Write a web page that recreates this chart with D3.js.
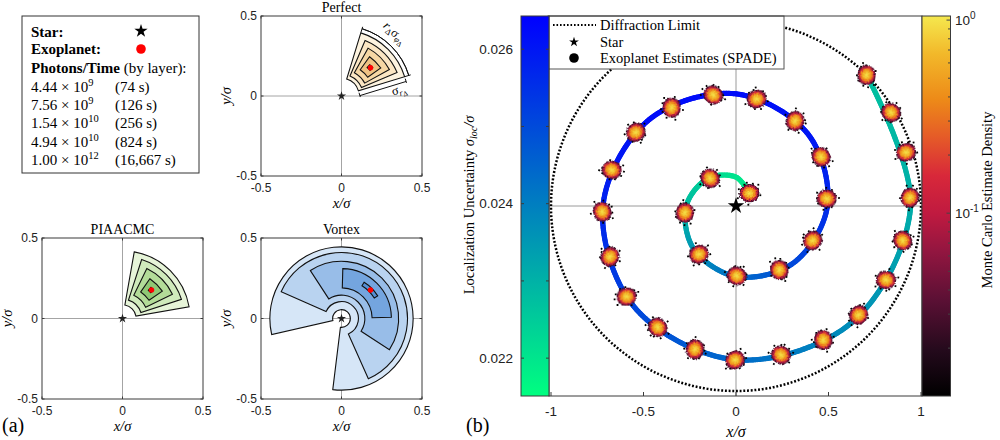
<!DOCTYPE html>
<html><head><meta charset="utf-8">
<script src="https://cdn.jsdelivr.net/npm/d3@7"></script>
<style>body{margin:0;background:#fff} svg{display:block}</style>
</head><body><svg id="c" width="1000" height="440"></svg>
<script>
// ================= DATA =================
// Legend of panel (a)
const legendMantissa = ["4.44", "7.56", "1.54", "4.94", "1.00"];
const legendExponent = ["9", "9", "10", "10", "12"];
const legendTimes = ["(74 s)", "(126 s)", "(256 s)", "(824 s)", "(16,667 s)"];

// Exoplanet true position (panel a)
const planetX = 0.18, planetY = 0.177;

// Uncertainty wedges (outer layer first): radius range and angle range (deg)
const perfectRIn  = [0.11, 0.135, 0.165, 0.20, 0.238];
const perfectROut = [0.41, 0.375, 0.34, 0.30, 0.262];
const perfectTMin = [17, 23, 29, 35.5, 42];
const perfectTMax = [73, 67, 61, 54.5, 48];

const piaaRIn  = [0.085, 0.12, 0.16, 0.20, 0.238];
const piaaROut = [0.42, 0.385, 0.345, 0.30, 0.262];
const piaaTMin = [10, 18, 26, 34.5, 42.5];
const piaaTMax = [80, 72, 64, 55.5, 47.5];

const vortexRIn  = [0.055, 0.105, 0.145, 0.19, 0.24];
const vortexROut = [0.445, 0.41, 0.355, 0.31, 0.265];
const vortexTMin = [-97, -66, -33, 1.5, 32];
const vortexTMax = [193, 156, 123, 88.5, 58];

const smallTicks = [-0.5, 0, 0.5];

const trajX = [0.071, 0, -0.150, -0.269, -0.230, 0, 0.309, 0.494, 0.389, 0,
  -0.468, -0.719, -0.548, 0, 0.628, 0.944, 0.707];
const trajY = [0.071, 0.156, 0.150, 0, -0.230, -0.381, -0.309, 0, 0.389, 0.606,
  0.468, 0, -0.548, -0.831, -0.628, 0, 0.707];
const trajUnc = [0.0218, 0.0220, 0.0223, 0.0228, 0.0235, 0.0243, 0.0250, 0.0256, 0.0260, 0.0262,
  0.0262, 0.0258, 0.0251, 0.0244, 0.0237, 0.0231, 0.0227];

// Monte Carlo estimate cluster centres
const clusterX = [0.072, -0.14, -0.276, -0.20, 0.004, 0.234, 0.414, 0.49, 0.46, 0.32,
  0.112, -0.123, -0.348, -0.542, -0.672, -0.723, -0.681, -0.591, -0.423, -0.222,
  -0.005, 0.243, 0.472, 0.663, 0.811, 0.901, 0.94, 0.919, 0.838, 0.706];
const clusterY = [0.069, 0.15, -0.036, -0.261, -0.378, -0.346, -0.187, 0.04, 0.266, 0.46,
  0.578, 0.60, 0.531, 0.398, 0.195, -0.031, -0.274, -0.49, -0.656, -0.775,
  -0.832, -0.805, -0.724, -0.589, -0.40, -0.187, 0.045, 0.29, 0.506, 0.708];
const diffractionRadius = 1;

const bigXTicks = [-1, -0.5, 0, 0.5, 1];
const bigYTicks = [-1, -0.5, 0, 0.5, 1];
const uncDomain = [0.02151, 0.02643];
const uncTicks = [0.022, 0.023, 0.024, 0.025, 0.026];
const uncTickLabels = ["0.022", "", "0.024", "", "0.026"];
const densityDomain = [0.0113, 1.05];
const densityMajor = [1, 0.1];
const densityMajorExp = ["0", "-1"];
const densityMinor = [0.9, 0.8, 0.7, 0.6, 0.5, 0.4, 0.3, 0.2, 0.09, 0.08, 0.07, 0.06, 0.05, 0.04, 0.03, 0.02];

// ================= STYLE =================
const serif = "'Liberation Serif','DejaVu Serif',serif";
const sans = "'Liberation Sans',Arial,sans-serif";
const frameColor = "#3a3a3a";
const gridColor = "#9a9a9a";
const perfectFills = ["#fdf3df", "#fbe6c3", "#f6d7a4", "#efc283", "#e6aa60"];
const piaaFills = ["#e6f4d8", "#cfeabb", "#b3dc98", "#8fc874", "#6cb356"];
const vortexFills = ["#d6e6f7", "#b9d3f0", "#98bde8", "#74a5df", "#5690d6"];
const densityStops = [
  [0, "#000000"], [0.12, "#240a1c"], [0.25, "#5a1034"], [0.38, "#921640"],
  [0.48, "#c01a40"], [0.58, "#d8283a"], [0.68, "#e55a28"], [0.78, "#ed8a18"],
  [0.9, "#f2b82a"], [1, "#f5e84e"]];

const svg = d3.select("#c");
const defs = svg.append("defs");
const rad = d => d * Math.PI / 180;

// ================= PANEL (a) LEGEND =================
(function () {
  const g = svg.append("g");
  g.append("rect").attr("x", 22).attr("y", 16).attr("width", 177).attr("height", 157)
    .attr("fill", "#fff").attr("stroke", "#333").attr("stroke-width", 1);
  const t = (x, y, s, w) => g.append("text").attr("x", x).attr("y", y)
    .attr("font-family", serif).attr("font-size", 15).attr("font-weight", w || "normal").text(s);
  t(31, 37, "Star:", "bold");
  g.append("path").attr("d", d3.symbol(d3.symbolStar, 55)())
    .attr("transform", "translate(141,31)").attr("fill", "#000");
  t(31, 54, "Exoplanet:", "bold");
  g.append("circle").attr("cx", 141).attr("cy", 49).attr("r", 4.8).attr("fill", "#f00");
  const ph = g.append("text").attr("x", 31).attr("y", 73).attr("font-family", serif).attr("font-size", 15);
  ph.append("tspan").attr("font-weight", "bold").text("Photons/Time");
  ph.append("tspan").text(" (by layer):");
  legendMantissa.forEach((m, i) => {
    const y = 92 + i * 18.2;
    const tx = g.append("text").attr("x", 31).attr("y", y).attr("font-family", serif).attr("font-size", 15);
    tx.append("tspan").text(m + " \u00d7 10");
    tx.append("tspan").attr("dy", -6).attr("font-size", 10.5).text(legendExponent[i]);
    t(115, y, legendTimes[i]);
  });
})();

// ================= SMALL PANELS =================
function smallPanel(p) {
  const g = svg.append("g");
  const x = d3.scaleLinear().domain([-0.5, 0.5]).range([p.left, p.right]);
  const y = d3.scaleLinear().domain([-0.5, 0.5]).range([p.bottom, p.top]);
  const k = (x(0.5) - x(0)) / 0.5;
  const cid = "clip" + p.id;
  defs.append("clipPath").attr("id", cid).append("rect")
    .attr("x", p.left).attr("y", p.top).attr("width", p.right - p.left).attr("height", p.bottom - p.top);
  const inner = g.append("g").attr("clip-path", `url(#${cid})`);
  inner.append("rect").attr("x", p.left).attr("y", p.top).attr("width", p.right - p.left)
    .attr("height", p.bottom - p.top).attr("fill", "#fff");
  inner.append("line").attr("x1", x(0)).attr("x2", x(0)).attr("y1", p.top).attr("y2", p.bottom)
    .attr("stroke", gridColor).attr("stroke-width", 0.9);
  inner.append("line").attr("y1", y(0)).attr("y2", y(0)).attr("x1", p.left).attr("x2", p.right)
    .attr("stroke", gridColor).attr("stroke-width", 0.9);
  const arc = d3.arc();
  p.rIn.forEach((r0, i) => {
    inner.append("path")
      .attr("d", arc({innerRadius: r0 * k, outerRadius: p.rOut[i] * k,
        startAngle: rad(90 - p.tMax[i]), endAngle: rad(90 - p.tMin[i])}))
      .attr("transform", `translate(${x(0)},${y(0)})`)
      .attr("fill", p.fills[i]).attr("stroke", "#111").attr("stroke-width", 1.1);
  });
  if (p.annot) p.annot(inner, x, y, k);
  inner.append("path").attr("d", d3.symbol(d3.symbolStar, 26)())
    .attr("transform", `translate(${x(0)},${y(0)})`).attr("fill", "#222");
  inner.append("circle").attr("cx", x(planetX)).attr("cy", y(planetY)).attr("r", 2.7).attr("fill", "#f00");
  // frame
  g.append("rect").attr("x", p.left).attr("y", p.top).attr("width", p.right - p.left)
    .attr("height", p.bottom - p.top).attr("fill", "none").attr("stroke", frameColor).attr("stroke-width", 1);
  // ticks
  smallTicks.forEach(v => {
    g.append("line").attr("x1", x(v)).attr("x2", x(v)).attr("y1", p.bottom).attr("y2", p.bottom - 2.5).attr("stroke", frameColor);
    g.append("line").attr("x1", x(v)).attr("x2", x(v)).attr("y1", p.top).attr("y2", p.top + 2.5).attr("stroke", frameColor);
    g.append("line").attr("y1", y(v)).attr("y2", y(v)).attr("x1", p.left).attr("x2", p.left + 2.5).attr("stroke", frameColor);
    g.append("line").attr("y1", y(v)).attr("y2", y(v)).attr("x1", p.right).attr("x2", p.right - 2.5).attr("stroke", frameColor);
    g.append("text").attr("x", x(v)).attr("y", p.bottom + 11.5).attr("dy", "0.35em")
      .attr("text-anchor", "middle").attr("font-family", sans).attr("font-size", 12).attr("fill", "#222").text(String(v));
    g.append("text").attr("x", p.left - 4).attr("y", y(v)).attr("dy", "0.35em")
      .attr("text-anchor", "end").attr("font-family", sans).attr("font-size", 12).attr("fill", "#222").text(String(v));
  });
  g.append("text").attr("x", (p.left + p.right) / 2).attr("y", p.top - 4.5)
    .attr("text-anchor", "middle").attr("font-family", serif).attr("font-size", 14).text(p.title);
  g.append("text").attr("x", (p.left + p.right) / 2).attr("y", p.bottom + 32)
    .attr("text-anchor", "middle").attr("font-family", serif).attr("font-style", "italic").attr("font-size", 14.5).text("x/\u03c3");
  g.append("text").attr("transform", `translate(${p.left - 30},${(p.top + p.bottom) / 2}) rotate(-90)`)
    .attr("text-anchor", "middle").attr("font-family", serif).attr("font-style", "italic").attr("font-size", 14.5).text("y/\u03c3");
}

smallPanel({id: "perf", title: "Perfect", left: 261, right: 422, top: 16, bottom: 176,
  rIn: perfectRIn, rOut: perfectROut, tMin: perfectTMin, tMax: perfectTMax, fills: perfectFills,
  annot: (g, x, y, k) => {
    const cx = x(0), cy = y(0);
    const arc = d3.arc();
    const rb = 0.437 * k;
    g.append("path").attr("d", arc({innerRadius: rb, outerRadius: rb, startAngle: rad(90 - perfectTMax[0]), endAngle: rad(90 - perfectTMin[0])}))
      .attr("transform", `translate(${cx},${cy})`).attr("fill", "none").attr("stroke", "#111").attr("stroke-width", 1);
    [perfectTMin[0], perfectTMax[0]].forEach(a => {
      g.append("line").attr("x1", cx + (rb - 4) * Math.cos(rad(a))).attr("y1", cy - (rb - 4) * Math.sin(rad(a)))
        .attr("x2", cx + (rb + 2) * Math.cos(rad(a))).attr("y2", cy - (rb + 2) * Math.sin(rad(a)))
        .attr("stroke", "#111").attr("stroke-width", 1);
    });
    const tr = 0.49 * k;
    const lab = g.append("text").attr("transform", `translate(${cx + tr * Math.cos(rad(50))},${cy - tr * Math.sin(rad(50))}) rotate(42)`)
      .attr("text-anchor", "middle").attr("font-family", serif).attr("font-size", 12.5);
    lab.append("tspan").attr("font-style", "italic").text("r");
    lab.append("tspan").attr("dy", 2.5).attr("font-size", 8.5).text("\u0394");
    lab.append("tspan").attr("dy", -2.5).text("\u03c3");
    lab.append("tspan").attr("dy", 2.5).attr("font-size", 8.5).attr("font-style", "italic").text("\u03c6");
    lab.append("tspan").attr("dy", 1.5).attr("font-size", 7).text("\u0394");
    const a = rad(perfectTMin[0]), off = 5;
    const nx = Math.sin(a), ny = Math.cos(a);
    const p1 = [cx + perfectRIn[0] * k * Math.cos(a) + off * nx, cy - perfectRIn[0] * k * Math.sin(a) + off * ny];
    const p2 = [cx + perfectROut[0] * k * Math.cos(a) + off * nx, cy - perfectROut[0] * k * Math.sin(a) + off * ny];
    g.append("line").attr("x1", p1[0]).attr("y1", p1[1]).attr("x2", p2[0]).attr("y2", p2[1]).attr("stroke", "#111");
    [p1, p2].forEach(q => g.append("line").attr("x1", q[0] - 3 * nx).attr("y1", q[1] - 3 * ny)
      .attr("x2", q[0] + 1.5 * nx).attr("y2", q[1] + 1.5 * ny).attr("stroke", "#111"));
    const lb = g.append("text").attr("transform", `translate(${p2[0] - 6},${p2[1] + 12}) rotate(${-perfectTMin[0]})`)
      .attr("text-anchor", "middle").attr("font-family", serif).attr("font-size", 12.5);
    lb.append("tspan").text("\u03c3");
    lb.append("tspan").attr("dy", 2.5).attr("font-size", 8.5).attr("font-style", "italic").text("r");
    lb.append("tspan").attr("dy", 1.5).attr("font-size", 7).text("\u0394");
  }});
smallPanel({id: "piaa", title: "PIAACMC", left: 42, right: 203, top: 238, bottom: 399,
  rIn: piaaRIn, rOut: piaaROut, tMin: piaaTMin, tMax: piaaTMax, fills: piaaFills});
smallPanel({id: "vort", title: "Vortex", left: 261, right: 422, top: 238, bottom: 399,
  rIn: vortexRIn, rOut: vortexROut, tMin: vortexTMin, tMax: vortexTMax, fills: vortexFills});

svg.append("text").attr("x", 2).attr("y", 432).attr("font-family", serif).attr("font-size", 20).text("(a)");

// ================= PANEL (b) =================
(function () {
  const L = 549, R = 922, T = 16, B = 396;
  const x = d3.scaleLinear().domain([-1, 1]).range([551, 921]);
  const y = d3.scaleLinear().domain([-1, 1]).range([391, 21]);
  const k = (x(1) - x(0));
  const g = svg.append("g");
  defs.append("clipPath").attr("id", "clipB").append("rect").attr("x", L).attr("y", T).attr("width", R - L).attr("height", B - T);
  const inner = g.append("g").attr("clip-path", "url(#clipB)");
  inner.append("line").attr("x1", x(0)).attr("x2", x(0)).attr("y1", T).attr("y2", B).attr("stroke", gridColor).attr("stroke-width", 1);
  inner.append("line").attr("y1", y(0)).attr("y2", y(0)).attr("x1", L).attr("x2", R).attr("stroke", gridColor).attr("stroke-width", 1);
  // diffraction limit
  inner.append("circle").attr("cx", x(0)).attr("cy", y(0)).attr("r", diffractionRadius * k)
    .attr("fill", "none").attr("stroke", "#000").attr("stroke-width", 2.5).attr("stroke-dasharray", "1.9 1.8");

  // trajectory coloured by localization uncertainty
  const uncColor = d3.scaleLinear().domain(uncDomain).range(["#00ff80", "#0000ff"]).clamp(true);
  const pts = trajX.map((tx, i) => [x(tx), y(trajY[i])]);
  const lineGen = d3.line().curve(d3.curveCatmullRom.alpha(0.5));
  const tmp = inner.append("path").attr("d", lineGen(pts)).attr("fill", "none");
  const node = tmp.node();
  const total = node.getTotalLength();
  const vertLen = pts.map((p, i) => {
    if (i === 0) return 0;
    const tp = inner.append("path").attr("d", lineGen(pts.slice(0, i + 1)));
    const l = tp.node().getTotalLength(); tp.remove(); return l;
  });
  vertLen[vertLen.length - 1] = total;
  const lenToUnc = d3.scaleLinear().domain(vertLen).range(trajUnc);
  tmp.remove();
  const step = 2.5;
  const n = Math.ceil(total / step);
  const sg = inner.append("g").attr("stroke-width", 5.2).attr("stroke-linecap", "round");
  for (let i = 0; i < n; i++) {
    const l0 = i * step, l1 = Math.min(total, (i + 1) * step);
    const a = node.getPointAtLength(l0), b = node.getPointAtLength(l1);
    sg.append("line").attr("x1", a.x).attr("y1", a.y).attr("x2", b.x).attr("y2", b.y)
      .attr("stroke", uncColor(lenToUnc((l0 + l1) / 2)));
  }

  // density colormap
  const dLog = d3.scaleLog().domain(densityDomain).range([0, 1]);
  const dInterp = d3.scaleLinear().domain(densityStops.map(s => s[0])).range(densityStops.map(s => s[1])).clamp(true);
  const dColor = v => dInterp(dLog(v));
  const grad = defs.append("radialGradient").attr("id", "blob");
  [[0, 1], [0.3, 0.7], [0.54, 0.38], [0.7, 0.17], [0.82, 0.065], [0.92, 0.026], [1, 0.014]].forEach(s => {
    grad.append("stop").attr("offset", s[0]).attr("stop-color", dColor(s[1]))
      .attr("stop-opacity", s[0] === 1 ? 0 : 1);
  });
  const f = defs.append("filter").attr("id", "rough").attr("x", "-30%").attr("y", "-30%").attr("width", "160%").attr("height", "160%");
  f.append("feTurbulence").attr("type", "fractalNoise").attr("baseFrequency", 0.7).attr("numOctaves", 1).attr("seed", 4).attr("result", "n");
  f.append("feDisplacementMap").attr("in", "SourceGraphic").attr("in2", "n").attr("scale", 4)
    .attr("xChannelSelector", "R").attr("yChannelSelector", "G");
  const speck = [[-9.5, 1.5], [8.5, -4.5], [-5, -8.5], [6.5, 7.5], [-10.5, -4], [11, 2], [1.5, 9.5],
    [-2.5, -10.5], [9, -8.5], [-7.5, 6.5], [3.5, -9.5], [-11.5, 5], [12, -3], [-1, 11.5]];
  const cg = inner.append("g");
  clusterX.forEach((cx, i) => {
    const px = x(cx), py = y(clusterY[i]);
    const c = cg.append("g").attr("transform", `translate(${px},${py}) rotate(${i * 53})`);
    speck.forEach((s, j) => { if ((i + j) % 3 !== 0)
      c.append("rect").attr("x", s[0] - 0.9).attr("y", s[1] - 0.9).attr("width", 1.8).attr("height", 1.8).attr("fill", "#000"); });
    c.append("ellipse").attr("rx", 10.5).attr("ry", 9.5).attr("fill", "url(#blob)").attr("filter", "url(#rough)");
  });
  // star
  inner.append("path").attr("d", d3.symbol(d3.symbolStar, 85)()).attr("transform", `translate(${x(0)},${y(0)})`).attr("fill", "#000");

  // legend
  const lg = g.append("g");
  lg.append("rect").attr("x", 548).attr("y", 16).attr("width", 236).attr("height", 53).attr("fill", "#fff").attr("stroke", "#555");
  lg.append("line").attr("x1", 553).attr("x2", 596).attr("y1", 25).attr("y2", 25).attr("stroke", "#000").attr("stroke-width", 2.2).attr("stroke-dasharray", "1.6 1.9");
  lg.append("path").attr("d", d3.symbol(d3.symbolStar, 30)()).attr("transform", "translate(574,42)").attr("fill", "#000");
  lg.append("circle").attr("cx", 574).attr("cy", 58).attr("r", 4.8).attr("fill", "#000");
  [["Diffraction Limit", 25], ["Star", 42], ["Exoplanet Estimates (SPADE)", 58]].forEach(d => {
    lg.append("text").attr("x", 600).attr("y", d[1]).attr("dy", "0.35em").attr("font-family", serif).attr("font-size", 14.5).text(d[0]);
  });

  // frame + x axis
  g.append("rect").attr("x", L).attr("y", T).attr("width", R - L).attr("height", B - T).attr("fill", "none").attr("stroke", frameColor);
  bigXTicks.forEach(v => {
    g.append("line").attr("x1", x(v)).attr("x2", x(v)).attr("y1", B).attr("y2", B - 4).attr("stroke", frameColor);
    g.append("text").attr("x", x(v)).attr("y", B + 15).attr("dy", "0.35em").attr("text-anchor", "middle")
      .attr("font-family", sans).attr("font-size", 13.5).attr("fill", "#222").text(String(v));
  });
  // y tick labels of the main axes (mostly hidden by the colorbar)
  bigYTicks.forEach(v => {
    g.append("text").attr("x", 544).attr("y", y(v)).attr("dy", "0.35em").attr("text-anchor", "end")
      .attr("font-family", sans).attr("font-size", 13.5).attr("fill", "#222").text(String(v));
  });
  g.append("text").attr("x", x(0)).attr("y", 437).attr("text-anchor", "middle").attr("font-family", serif)
    .attr("font-style", "italic").attr("font-size", 16).text("x/\u03c3");

  // left colorbar (localization uncertainty)
  const uy = d3.scaleLinear().domain(uncDomain).range([B, T]);
  const ug = defs.append("linearGradient").attr("id", "uncGrad").attr("x1", 0).attr("x2", 0).attr("y1", 1).attr("y2", 0);
  ug.append("stop").attr("offset", 0).attr("stop-color", uncColor(uncDomain[0]));
  ug.append("stop").attr("offset", 1).attr("stop-color", uncColor(uncDomain[1]));
  g.append("rect").attr("x", 521).attr("y", T).attr("width", 28).attr("height", B - T).attr("fill", "url(#uncGrad)").attr("stroke", frameColor);
  uncTicks.forEach((v, i) => {
    g.append("line").attr("x1", 521).attr("x2", 524).attr("y1", uy(v)).attr("y2", uy(v)).attr("stroke", frameColor);
    g.append("line").attr("x1", 549).attr("x2", 546).attr("y1", uy(v)).attr("y2", uy(v)).attr("stroke", frameColor);
    if (uncTickLabels[i]) g.append("text").attr("x", 513).attr("y", uy(v)).attr("dy", "0.35em").attr("text-anchor", "end")
      .attr("font-family", sans).attr("font-size", 13.5).attr("fill", "#222").text(uncTickLabels[i]);
  });
  const ul = g.append("text").attr("transform", `translate(474,205) rotate(-90)`).attr("text-anchor", "middle")
    .attr("font-family", serif).attr("font-size", 14.5);
  ul.append("tspan").text("Localization Uncertainty ");
  ul.append("tspan").attr("font-style", "italic").text("\u03c3");
  ul.append("tspan").attr("dy", 3).attr("font-size", 10).attr("font-style", "italic").text("loc");
  ul.append("tspan").attr("dy", -3).attr("font-style", "italic").text("/\u03c3");

  // right colorbar (density)
  const dy = d3.scaleLog().domain(densityDomain).range([B, T]);
  const dg = defs.append("linearGradient").attr("id", "denGrad").attr("x1", 0).attr("x2", 0).attr("y1", 1).attr("y2", 0);
  densityStops.forEach(s => dg.append("stop").attr("offset", s[0]).attr("stop-color", s[1]));
  g.append("rect").attr("x", 922).attr("y", T).attr("width", 28.5).attr("height", B - T).attr("fill", "url(#denGrad)").attr("stroke", frameColor);
  densityMinor.forEach(v => g.append("line").attr("x1", 950.5).attr("x2", 948).attr("y1", dy(v)).attr("y2", dy(v)).attr("stroke", "#444"));
  densityMajor.forEach((v, i) => {
    g.append("line").attr("x1", 950.5).attr("x2", 946.5).attr("y1", dy(v)).attr("y2", dy(v)).attr("stroke", "#444");
    const t = g.append("text").attr("x", 955).attr("y", dy(v) + 5).attr("font-family", sans).attr("font-size", 13.5).attr("fill", "#222");
    t.append("tspan").text("10");
    t.append("tspan").attr("dy", -6).attr("font-size", 10).text(densityMajorExp[i]);
  });
  g.append("text").attr("transform", `translate(992,200) rotate(-90)`).attr("text-anchor", "middle")
    .attr("font-family", serif).attr("font-size", 14.5).text("Monte Carlo Estimate Density");

  svg.append("text").attr("x", 466).attr("y", 432).attr("font-family", serif).attr("font-size", 20).text("(b)");
})();
</script></body></html>
